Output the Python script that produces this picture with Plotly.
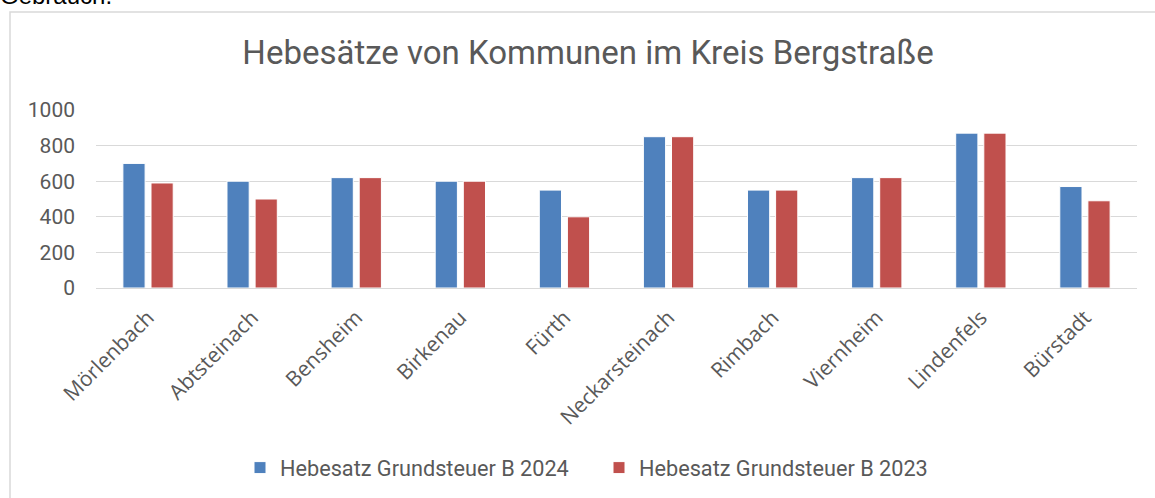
import plotly.graph_objects as go

categories = ["Mörlenbach", "Abtsteinach", "Bensheim", "Birkenau", "Fürth",
              "Neckarsteinach", "Rimbach", "Viernheim", "Lindenfels", "Bürstadt"]
values_2024 = [700, 600, 620, 600, 550, 850, 550, 620, 870, 570]
values_2023 = [590, 500, 620, 600, 400, 850, 550, 620, 870, 490]
series_names = ["Hebesatz Grundsteuer B 2024", "Hebesatz Grundsteuer B 2023"]
y_ticks = [0, 200, 400, 600, 800, 1000]

W, H = 1155, 498
L, R, T, B = 96, 18, 110, 210
pw, ph = W - L - R, H - T - B

def px(x):
    return (x - L) / pw

def py(y):
    return (H - B - y) / ph

main_font = "Roboto, sans-serif"
grey = "#595959"

fig = go.Figure()
fig.add_trace(go.Bar(x=categories, y=values_2024, name=series_names[0],
                     marker=dict(color="#4F81BD", line=dict(color="#ffffff", width=1))))
fig.add_trace(go.Bar(x=categories, y=values_2023, name=series_names[1],
                     marker=dict(color="#C0504D", line=dict(color="#ffffff", width=1))))

fig.update_layout(
    width=W, height=H,
    margin=dict(l=L, r=R, t=T, b=B, autoexpand=False),
    paper_bgcolor="white", plot_bgcolor="white",
    barmode="group", bargap=0.46, bargroupgap=0.21,
    title=dict(text="Hebesätze von Kommunen im Kreis Bergstraße",
               font=dict(family=main_font, size=33, color=grey),
               x=px(588), xref="paper", xanchor="center",
               y=1 - 52 / H, yanchor="middle"),
    showlegend=True,
    legend=dict(orientation="h", x=px(599), xanchor="center", y=py(468), yanchor="middle",
                font=dict(family=main_font, size=21.7, color=grey),
                itemwidth=30, entrywidth=314, traceorder="normal"),
    xaxis=dict(tickangle=-45, tickfont=dict(family="Open Sans", size=21, color=grey),
               showgrid=False, showline=True, linecolor="#D9D9D9", linewidth=1,
               ticks="", automargin=False, ticklabelstandoff=8),
    yaxis=dict(range=[0, 1000], tickvals=y_ticks,
               tickfont=dict(family=main_font, size=21, color=grey),
               showgrid=True, gridcolor="#D9D9D9", gridwidth=1,
               zeroline=False, showline=False, ticks="", ticklabelstandoff=20,
               automargin=False),
    font=dict(family=main_font, color=grey),
    shapes=[dict(type="rect", xref="paper", yref="paper",
                 x0=px(10), x1=px(1200), y0=py(600), y1=py(12),
                 line=dict(color="#D9D9D9", width=1.5), layer="below")],
    annotations=[dict(text="Gebrauch.", xref="paper", yref="paper",
                      x=px(-2), y=py(11), xanchor="left", yanchor="bottom",
                      showarrow=False,
                      font=dict(family="Liberation Sans", size=24, color="#000000"))],
)

fig.write_html("out.html",
               config={"displayModeBar": False},
               post_script="document.body.style.margin='0';document.body.style.overflow='hidden';")
